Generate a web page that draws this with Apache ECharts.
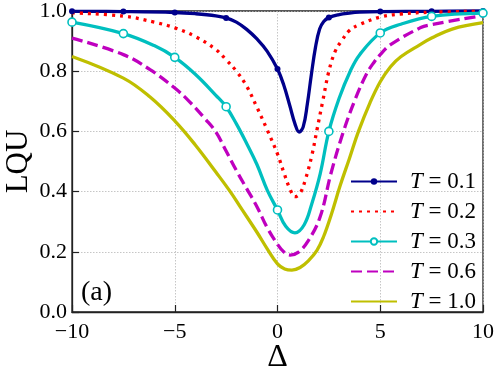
<!DOCTYPE html>
<html>
<head>
<meta charset="utf-8">
<script src="https://cdn.jsdelivr.net/npm/echarts@6/dist/echarts.min.js"></script>
<style>
html,body{margin:0;padding:0;background:#fff;}
#chart{width:498px;height:374px;}
</style>
</head>
<body>
<div id="chart"></div>
<script>
// ---- data ----
const seriesNames = ['T = 0.1', 'T = 0.2', 'T = 0.3', 'T = 0.6', 'T = 1.0'];
const markerDelta = [-10, -7.5, -5, -2.5, 0, 2.5, 5, 7.5, 10];
const xTicks = [-10, -5, 0, 5, 10];
const yTicks = [0.0, 0.2, 0.4, 0.6, 0.8, 1.0];

const deltaT01 = [-10, -7.5, -5, -4, -3, -2.5, -2, -1.5, -1, -0.5, 0, 0.3, 0.6, 0.85, 1.05, 1.25, 1.45, 1.65, 1.85, 2.05, 2.25, 2.5, 3, 3.5, 4, 5, 7.5, 10];
const lquT01   = [0.999, 0.998, 0.995, 0.991, 0.984, 0.977, 0.963, 0.939, 0.907, 0.866, 0.807, 0.755, 0.685, 0.625, 0.598, 0.615, 0.69, 0.79, 0.88, 0.94, 0.965, 0.978, 0.988, 0.993, 0.996, 0.998, 0.999, 1.0];

const deltaT02 = [-10, -7.5, -6, -5, -4, -3, -2.5, -2, -1.5, -1, -0.5, 0, 0.3, 0.6, 0.85, 1.1, 1.35, 1.67, 1.92, 2.2, 2.5, 2.8, 3.1, 3.5, 4, 5, 6, 7.5, 10];
const lquT02   = [0.994, 0.983, 0.963, 0.944, 0.915, 0.872, 0.838, 0.80, 0.75, 0.68, 0.605, 0.525, 0.465, 0.41, 0.383, 0.395, 0.438, 0.52, 0.605, 0.70, 0.80, 0.865, 0.899, 0.935, 0.955, 0.98, 0.99, 0.996, 0.999];

const deltaT03 = [-10, -7.5, -6, -5, -4, -3, -2.5, -2, -1.5, -1, -0.5, 0, 0.4, 0.85, 1.3, 1.67, 2.08, 2.5, 3, 3.54, 4, 5, 6, 7.5, 10];
const lquT03   = [0.963, 0.925, 0.885, 0.846, 0.79, 0.72, 0.682, 0.625, 0.56, 0.49, 0.405, 0.339, 0.285, 0.263, 0.29, 0.36, 0.46, 0.60, 0.71, 0.80, 0.855, 0.927, 0.956, 0.982, 0.993];

const deltaT06 = [-10, -7.5, -6.2, -5, -4.3, -3.5, -3, -2.5, -2, -1.5, -1, -0.5, 0, 0.3, 0.62, 1, 1.5, 2.08, 2.6, 3.21, 3.8, 4.35, 4.7, 5, 5.5, 6.94, 7.5, 10];
const lquT06   = [0.91, 0.855, 0.805, 0.744, 0.70, 0.64, 0.598, 0.535, 0.47, 0.41, 0.35, 0.28, 0.225, 0.2, 0.189, 0.198, 0.237, 0.317, 0.46, 0.60, 0.71, 0.793, 0.83, 0.855, 0.888, 0.944, 0.955, 0.985];

const deltaT10 = [-10, -7.5, -6.2, -5, -4, -3, -2.3, -1.82, -1, -0.5, 0, 0.35, 0.7, 1.1, 1.5, 1.92, 2.24, 2.6, 3.05, 3.5, 3.94, 4.5, 5, 5.5, 6, 6.94, 7.5, 8.5, 10];
const lquT10   = [0.849, 0.777, 0.714, 0.635, 0.555, 0.465, 0.40, 0.35, 0.265, 0.21, 0.16, 0.143, 0.139, 0.148, 0.17, 0.205, 0.25, 0.32, 0.42, 0.51, 0.60, 0.695, 0.765, 0.815, 0.848, 0.888, 0.91, 0.94, 0.961];

const colors = ['#00008b', '#ff0000', '#00bfbf', '#bf00bf', '#bfbf00'];
const FONT = '"Liberation Serif", "DejaVu Serif", serif';

function buildData(xs, ys, marked) {
  return xs.map(function (x, i) {
    const item = { value: [x, ys[i]] };
    if (!(marked && markerDelta.indexOf(x) >= 0)) item.symbol = 'none';
    return item;
  });
}

const chart = echarts.init(document.getElementById('chart'), null, { renderer: 'canvas' });

function fmtX(v) { return v < 0 ? '\u2212' + Math.abs(v) : String(v); }

const hiddenSym = { color: 'rgba(0,0,0,0)', borderColor: 'rgba(0,0,0,0)', borderWidth: 0, opacity: 0 };

const option = {
  animation: false,
  backgroundColor: '#ffffff',
  grid: {
    left: 72, top: 11, width: 411, height: 301,
    containLabel: false, outerBoundsMode: 'none',
    show: true, borderColor: '#222', borderWidth: 1.3, backgroundColor: 'transparent'
  },
  xAxis: {
    type: 'value', min: -10, max: 10, interval: 5,
    name: '\u0394', nameLocation: 'middle', nameGap: 30, nameMoveOverlap: false,
    nameTextStyle: { fontFamily: FONT, fontSize: 32, color: '#000' },
    axisLine: { show: true, onZero: false, lineStyle: { color: '#222', width: 1.3 } },
    axisTick: { show: true, inside: true, length: 7, lineStyle: { color: '#222', width: 1.2 } },
    axisLabel: { fontFamily: FONT, fontSize: 22, color: '#000', margin: 9, formatter: fmtX },
    splitLine: { show: true, lineStyle: { color: '#b8b8b8', width: 0.8, type: [1.5, 1.5] } }
  },
  yAxis: {
    type: 'value', min: 0, max: 1, interval: 0.2,
    name: 'LQU', nameLocation: 'middle', nameGap: 38, nameRotate: 90, nameMoveOverlap: false,
    nameTextStyle: { fontFamily: FONT, fontSize: 31, color: '#000' },
    axisLine: { show: true, onZero: false, lineStyle: { color: '#222', width: 1.3 } },
    axisTick: { show: true, inside: true, length: 7, lineStyle: { color: '#222', width: 1.2 } },
    axisLabel: { fontFamily: FONT, fontSize: 22, color: '#000', margin: 5, formatter: function (v) { return v.toFixed(1); } },
    splitLine: { show: true, lineStyle: { color: '#b8b8b8', width: 0.8, type: [1.5, 1.5] } }
  },
  legend: {
    orient: 'vertical', left: 345, top: 165,
    itemWidth: 46, itemHeight: 8, itemGap: 7,
    data: [
      { name: seriesNames[0] },
      { name: seriesNames[1], itemStyle: hiddenSym },
      { name: seriesNames[2] },
      { name: seriesNames[3], itemStyle: hiddenSym },
      { name: seriesNames[4], itemStyle: hiddenSym }
    ],
    formatter: function (name) { return '{it|T} = ' + name.split('= ')[1]; },
    textStyle: {
      fontFamily: FONT, fontSize: 23, color: '#000', lineHeight: 23, padding: [0, 0, 0, 8],
      rich: { it: { fontFamily: FONT, fontStyle: 'italic', fontSize: 23, lineHeight: 23 } }
    }
  },
  graphic: [
    { type: 'text', left: 81, top: 279, style: { text: '(a)', font: '28px "Liberation Serif", serif', fill: '#000' } }
  ],
  series: [
    {
      name: seriesNames[0], type: 'line', data: buildData(deltaT01, lquT01, true),
      smooth: 0.4, clip: false, showAllSymbol: true,
      symbol: 'circle', symbolSize: 6,
      lineStyle: { color: colors[0], width: 3.3 },
      itemStyle: { color: colors[0], borderColor: colors[0], borderWidth: 0 }
    },
    {
      name: seriesNames[1], type: 'line', data: buildData(deltaT02, lquT02, false),
      smooth: 0.4, clip: false, symbol: 'none',
      lineStyle: { color: colors[1], width: 3.3, type: [3, 5] },
      itemStyle: { color: colors[1] }
    },
    {
      name: seriesNames[2], type: 'line', data: buildData(deltaT03, lquT03, true),
      smooth: 0.4, clip: false, showAllSymbol: true,
      symbol: 'circle', symbolSize: 8,
      lineStyle: { color: colors[2], width: 3.3 },
      itemStyle: { color: '#ffffff', borderColor: colors[2], borderWidth: 1.6 }
    },
    {
      name: seriesNames[3], type: 'line', data: buildData(deltaT06, lquT06, false),
      smooth: 0.4, clip: false, symbol: 'none',
      lineStyle: { color: colors[3], width: 3.3, type: [11, 5] },
      itemStyle: { color: colors[3] }
    },
    {
      name: seriesNames[4], type: 'line', data: buildData(deltaT10, lquT10, false),
      smooth: 0.4, clip: false, symbol: 'none',
      lineStyle: { color: colors[4], width: 3.3 },
      itemStyle: { color: colors[4] }
    }
  ]
};
chart.setOption(option);
</script>
</body>
</html>
